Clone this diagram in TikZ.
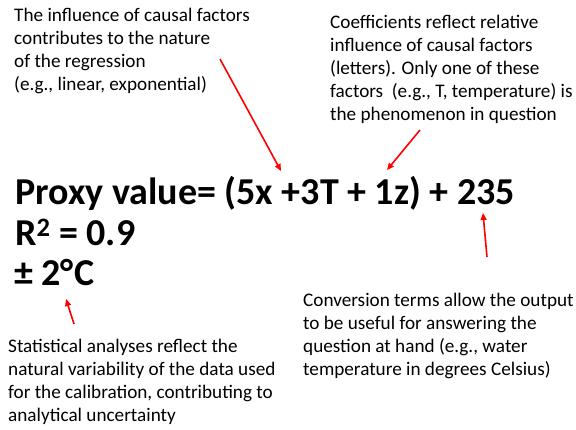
\documentclass[tikz,border=0pt]{standalone}
\usepackage{fontspec}
\setmainfont{Carlito}
\usetikzlibrary{arrows.meta}
\definecolor{arrowred}{RGB}{255,0,0}
\definecolor{inkc}{RGB}{0,0,0}

\begin{document}
\begin{tikzpicture}[x=1pt, y=-1pt,
  note/.style={align=left, anchor=base west, inner sep=0pt, text=inkc, font=\fontsize{19.2}{23}\selectfont},
  formula/.style={anchor=base west, inner sep=0pt, text=inkc, font=\fontsize{38}{42}\selectfont\bfseries},
  pointer/.style={draw=arrowred, line width=1.6pt, -{Triangle[length=7pt,width=6pt]}},
]
\useasboundingbox (0,0) rectangle (576,430);

% ---- annotations (anchored on their last baseline) ----
\node[note] (influence) at (14,91)
  {The influence of causal factors\\contributes to the nature\\of the regression\\(e.g., linear, exponential)};
\node[note] (coeff) at (330,121)
  {Coefficients reflect relative\\influence of causal factors\\(letters). Only one of these\\factors \ (e.g., T, temperature) is\\the phenomenon in question};

% ---- calibration equation ----
\node[formula] (proxy) at (15,205) {Proxy value= (5x +3T + 1z) + 235};
\node[formula] (rsq) at (15,246) {R\textsuperscript{2} = 0.9};
\node[formula] (error) at (14,286) {± 2°\kern0.5pt C};

% ---- lower notes ----
\node[note] (conversion) at (303,376)
  {Conversion terms allow the output\\to be useful for answering the\\question at hand (e.g., water\\temperature in degrees Celsius)};
\node[note] (stats) at (8,421)
  {Statistical analyses reflect the\\natural variability of the data used\\for the calibration, contributing to\\analytical uncertainty};

% ---- pointers ----
\coordinate (influence tail) at (220,59);
\coordinate (factor head) at (281,171);
\coordinate (coeff tail) at (420,130);
\coordinate (coeff head) at (387,170);
\coordinate (conversion tail) at (487,257);
\coordinate (constant head) at (483,213);
\coordinate (stats tail) at (74,324);
\coordinate (error head) at (66,299);

\draw[pointer] (influence tail) -- (factor head);
\draw[pointer] (coeff tail) -- (coeff head);
\draw[pointer] (conversion tail) -- (constant head);
\draw[pointer] (stats tail) -- (error head);

\end{tikzpicture}
\end{document}
